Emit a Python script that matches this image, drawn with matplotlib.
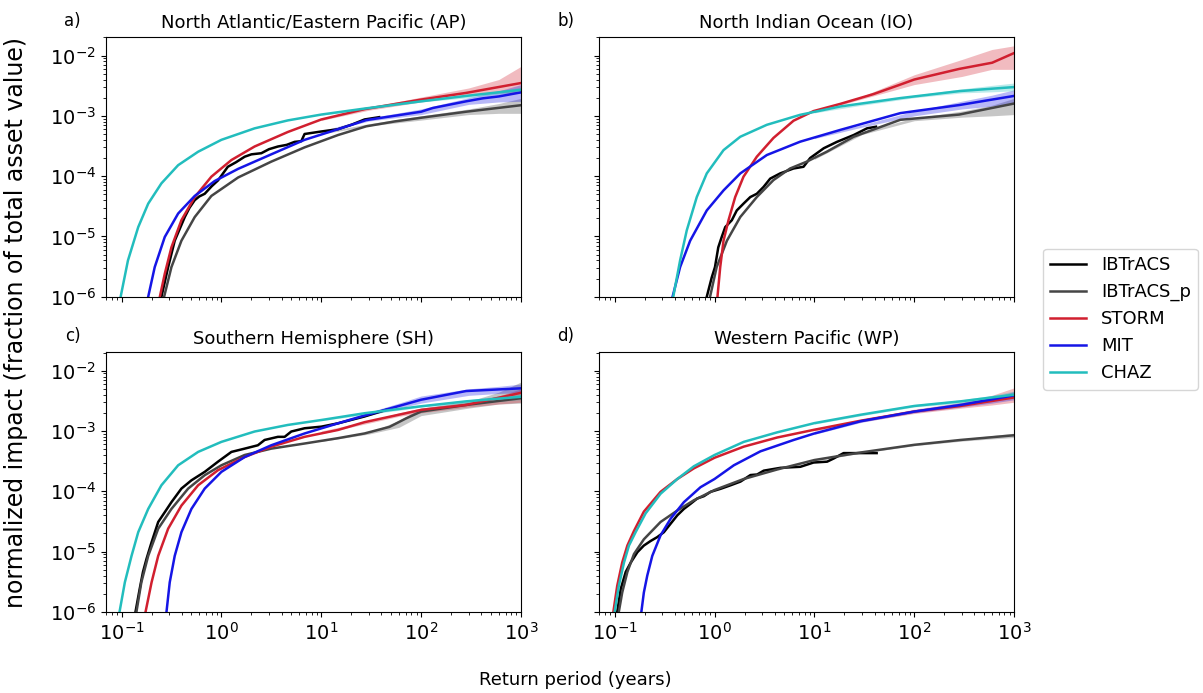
import matplotlib
matplotlib.use("Agg")
import matplotlib.pyplot as plt

# ---------------- data (return period in years, normalized impact) ----------------
LABELS = ["IBTrACS", "IBTrACS_p", "STORM", "MIT", "CHAZ"]
COLORS = ["black", "#454545", "#d11f2f", "#1515e6", "#22bdbd"]
TITLES = ["North Atlantic/Eastern Pacific (AP)", "North Indian Ocean (IO)",
          "Southern Hemisphere (SH)", "Western Pacific (WP)"]
PANEL_TAGS = ["a)", "b)", "c)", "d)"]

############# AP ##############################################################
AP_IBTRACS_X = [0.251, 0.293, 0.341, 0.43, 0.48, 0.541, 0.6, 0.681, 0.8, 0.925, 1.16, 1.4, 1.71, 2.0, 2.51,
                3.0, 3.68, 4.5, 5.41, 6.31, 6.81, 10.0, 14.7, 20.0, 27.1, 38.0]
AP_IBTRACS_Y = [1e-6, 3.1e-6, 8.5e-6, 2.1e-5, 3.0e-5, 4.0e-5, 4.6e-5, 5.1e-5, 6.8e-5, 8.5e-5, 1.43e-4, 1.7e-4, 2.1e-4, 2.3e-4, 2.4e-4,
                2.8e-4, 3.1e-4, 3.3e-4, 3.7e-4, 3.8e-4, 5.0e-4, 5.5e-4, 6.0e-4, 7.1e-4, 8.7e-4, 9.5e-4]
AP_IBTRACS_P_X = [0.267, 0.316, 0.398, 0.541, 0.794, 1.47, 3.16, 6.81, 14.7, 28.2, 55.0, 100.0, 282.0, 1000.0]
AP_IBTRACS_P_Y = [1e-6, 3.1e-6, 8.5e-6, 2.1e-5, 4.7e-5, 9.5e-5, 1.74e-4, 3.0e-4, 4.8e-4, 6.7e-4, 8.1e-4, 9.3e-4, 1.17e-3, 1.5e-3]
AP_STORM_X = [0.242, 0.271, 0.316, 0.398, 0.541, 0.794, 1.26, 2.15, 4.63, 10.0, 27.1, 100.0, 282.0, 1000.0]
AP_STORM_Y = [1e-6, 2.4e-6, 6.6e-6, 1.86e-5, 4.5e-5, 9.8e-5, 1.85e-4, 3.1e-4, 5.4e-4, 8.7e-4, 1.29e-3, 1.86e-3, 2.4e-3, 3.5e-3]
AP_MIT_X = [0.185, 0.215, 0.271, 0.369, 0.541, 0.857, 1.47, 3.16, 6.81, 14.7, 28.2, 100.0, 131.0, 282.0, 414.0, 603.0, 1000.0]
AP_MIT_Y = [1e-6, 3.1e-6, 9.8e-6, 2.4e-5, 4.7e-5, 8.3e-5, 1.32e-4, 2.3e-4, 4.0e-4, 6.0e-4, 8.5e-4, 1.17e-3, 1.35e-3, 1.74e-3, 1.95e-3, 2.1e-3, 2.45e-3]
AP_CHAZ_X = [0.098, 0.116, 0.147, 0.185, 0.251, 0.369, 0.585, 1.0, 2.15, 4.63, 10.0, 27.1, 100.0, 282.0, 1000.0]
AP_CHAZ_Y = [1e-6, 4.0e-6, 1.43e-5, 3.5e-5, 7.6e-5, 1.52e-4, 2.54e-4, 4.0e-4, 6.2e-4, 8.4e-4, 1.05e-3, 1.32e-3, 1.74e-3, 2.14e-3, 2.7e-3]
AP_BAND_X = [10.0, 30.0, 100.0, 300.0, 600.0, 1000.0]
AP_IBTRACS_P_LO = [5.0e-4, 6.8e-4, 8.5e-4, 1.05e-3, 1.1e-3, 1.1e-3]
AP_IBTRACS_P_HI = [5.3e-4, 7.4e-4, 1.0e-3, 1.3e-3, 1.6e-3, 1.95e-3]
AP_STORM_LO = [8.4e-4, 1.24e-3, 1.7e-3, 2.2e-3, 2.4e-3, 2.4e-3]
AP_STORM_HI = [9.0e-4, 1.38e-3, 2.05e-3, 2.9e-3, 4.0e-3, 6.6e-3]
AP_MIT_LO = [5.2e-4, 8.2e-4, 1.05e-3, 1.55e-3, 1.7e-3, 1.74e-3]
AP_MIT_HI = [5.6e-4, 9.2e-4, 1.3e-3, 2.0e-3, 2.6e-3, 3.3e-3]
AP_CHAZ_LO = [1.03e-3, 1.3e-3, 1.7e-3, 2.0e-3, 2.3e-3, 2.5e-3]
AP_CHAZ_HI = [1.07e-3, 1.38e-3, 1.8e-3, 2.25e-3, 2.6e-3, 3.0e-3]

############# IO ##############################################################
IO_IBTRACS_X = [0.836, 0.938, 1.01, 1.09, 1.18, 1.28, 1.49, 1.67, 1.95, 2.28, 2.65, 3.09, 3.61, 4.54, 6.18,
                7.78, 9.08, 12.4, 16.8, 24.7, 33.6, 41.4]
IO_IBTRACS_Y = [1e-6, 2.1e-6, 3.1e-6, 6.6e-6, 9.8e-6, 1.43e-5, 1.86e-5, 2.7e-5, 3.5e-5, 4.5e-5, 5.1e-5, 6.6e-5, 9.1e-5, 1.11e-4, 1.34e-4,
                1.43e-4, 2.0e-4, 2.9e-4, 3.7e-4, 4.8e-4, 6.2e-4, 6.6e-4]
IO_IBTRACS_P_X = [0.902, 1.05, 1.33, 1.81, 2.65, 3.89, 5.71, 8.39, 13.3, 24.7, 72.6, 282.0, 1000.0]
IO_IBTRACS_P_Y = [1e-6, 3.1e-6, 8.5e-6, 2.1e-5, 4.5e-5, 8.6e-5, 1.34e-4, 1.74e-4, 2.54e-4, 4.5e-4, 8.6e-4, 1.05e-3, 1.6e-3]
IO_STORM_X = [1.07, 1.14, 1.23, 1.38, 1.61, 1.95, 2.65, 3.89, 6.18, 9.82, 18.2, 39.2, 72.6, 100.0, 282.0, 603.0, 1000.0]
IO_STORM_Y = [1e-6, 3.1e-6, 8.5e-6, 1.86e-5, 4.5e-5, 9.8e-5, 2.1e-4, 4.3e-4, 8.3e-4, 1.2e-3, 1.58e-3, 2.3e-3, 3.3e-3, 4.0e-3, 6.0e-3, 7.6e-3, 1.1e-2]
IO_MIT_X = [0.38, 0.452, 0.57, 0.836, 1.23, 1.81, 3.34, 7.21, 18.2, 72.6, 282.0, 1000.0]
IO_MIT_Y = [1e-6, 3.1e-6, 8.5e-6, 2.7e-5, 5.8e-5, 1.11e-4, 2.24e-4, 3.73e-4, 5.85e-4, 1.11e-3, 1.51e-3, 2.14e-3]
IO_CHAZ_X = [0.386, 0.452, 0.527, 0.664, 0.836, 1.23, 1.81, 3.34, 7.21, 18.2, 72.6, 282.0, 1000.0]
IO_CHAZ_Y = [1e-6, 4.0e-6, 1.26e-5, 4.5e-5, 1.11e-4, 2.7e-4, 4.5e-4, 7.1e-4, 1.04e-3, 1.43e-3, 1.97e-3, 2.57e-3, 3.0e-3]
IO_BAND_X = [10.0, 30.0, 100.0, 300.0, 600.0, 1000.0]
IO_IBTRACS_P_LO = [1.9e-4, 4.9e-4, 8.3e-4, 9.5e-4, 1.0e-3, 1.05e-3]
IO_IBTRACS_P_HI = [2.1e-4, 5.5e-4, 9.2e-4, 1.2e-3, 1.5e-3, 1.95e-3]
IO_STORM_LO = [1.15e-3, 1.9e-3, 3.3e-3, 4.5e-3, 5.9e-3, 5.9e-3]
IO_STORM_HI = [1.25e-3, 2.1e-3, 4.8e-3, 8.6e-3, 1.26e-2, 1.45e-2]
IO_MIT_LO = [4.2e-4, 6.5e-4, 1.0e-3, 1.3e-3, 1.45e-3, 1.6e-3]
IO_MIT_HI = [4.6e-4, 7.1e-4, 1.2e-3, 1.75e-3, 2.2e-3, 2.7e-3]
IO_CHAZ_LO = [1.12e-3, 1.5e-3, 2.0e-3, 2.4e-3, 2.5e-3, 2.6e-3]
IO_CHAZ_HI = [1.18e-3, 1.6e-3, 2.2e-3, 2.8e-3, 3.2e-3, 3.5e-3]

############# SH ##############################################################
SH_IBTRACS_X = [0.138, 0.152, 0.164, 0.178, 0.2, 0.233, 0.271, 0.316, 0.398, 0.501, 0.681, 0.925, 1.26, 1.71,
                2.32, 2.71, 3.68, 4.3, 5.01, 6.81, 10.0, 14.7, 27.1, 44.7]
SH_IBTRACS_Y = [1e-6, 2.4e-6, 4.6e-6, 7.6e-6, 1.43e-5, 3.1e-5, 4.5e-5, 6.6e-5, 1.11e-4, 1.52e-4, 2.1e-4, 3.1e-4, 4.5e-4, 5.1e-4,
                5.8e-4, 7.1e-4, 8.0e-4, 8.0e-4, 9.8e-4, 1.11e-3, 1.18e-3, 1.34e-3, 1.74e-3, 2.24e-3]
SH_IBTRACS_P_X = [0.141, 0.158, 0.185, 0.233, 0.316, 0.465, 0.681, 1.0, 1.71, 3.16, 6.81, 14.7, 27.1, 48.2, 70.8, 100.0, 282.0, 1000.0]
SH_IBTRACS_P_Y = [1e-6, 3.1e-6, 8.5e-6, 2.4e-5, 5.1e-5, 1.11e-4, 1.85e-4, 2.7e-4, 4.0e-4, 5.1e-4, 6.2e-4, 7.6e-4, 9.1e-4, 1.17e-3, 1.62e-3, 2.1e-3, 2.7e-3, 3.5e-3]
SH_STORM_X = [0.174, 0.2, 0.233, 0.293, 0.398, 0.585, 0.925, 1.71, 3.16, 6.81, 14.7, 27.1, 100.0, 282.0, 1000.0]
SH_STORM_Y = [1e-6, 3.1e-6, 8.5e-6, 2.4e-5, 5.8e-5, 1.26e-4, 2.24e-4, 3.7e-4, 5.5e-4, 8.0e-4, 1.04e-3, 1.4e-3, 2.24e-3, 2.7e-3, 4.3e-3]
SH_MIT_X = [0.282, 0.304, 0.341, 0.398, 0.501, 0.681, 1.0, 1.71, 3.16, 6.81, 14.7, 27.1, 100.0, 282.0, 1000.0]
SH_MIT_Y = [1e-6, 3.1e-6, 8.5e-6, 2.1e-5, 5.1e-5, 1.11e-4, 2.1e-4, 3.7e-4, 5.8e-4, 9.1e-4, 1.34e-3, 1.8e-3, 3.3e-3, 4.6e-3, 5.1e-3]
SH_CHAZ_X = [0.0955, 0.108, 0.126, 0.147, 0.185, 0.251, 0.369, 0.585, 1.0, 2.15, 4.63, 10.0, 27.1, 100.0, 282.0, 1000.0]
SH_CHAZ_Y = [1e-6, 3.1e-6, 8.5e-6, 2.1e-5, 5.1e-5, 1.26e-4, 2.7e-4, 4.5e-4, 6.6e-4, 9.8e-4, 1.26e-3, 1.52e-3, 1.97e-3, 2.57e-3, 3.1e-3, 3.7e-3]
SH_BAND_X = [10.0, 30.0, 60.0, 100.0, 300.0, 600.0, 1000.0]
SH_IBTRACS_P_LO = [6.7e-4, 8.9e-4, 1.15e-3, 1.8e-3, 2.4e-3, 2.8e-3, 2.9e-3]
SH_IBTRACS_P_HI = [7.1e-4, 9.4e-4, 1.5e-3, 2.4e-3, 3.1e-3, 4.4e-3, 6.5e-3]
SH_STORM_LO = [9.0e-4, 1.35e-3, 1.75e-3, 2.0e-3, 2.5e-3, 2.8e-3, 3.0e-3]
SH_STORM_HI = [1.0e-3, 1.48e-3, 2.0e-3, 2.4e-3, 3.0e-3, 3.8e-3, 5.0e-3]
SH_MIT_LO = [1.1e-3, 1.8e-3, 2.4e-3, 2.9e-3, 3.9e-3, 4.2e-3, 4.3e-3]
SH_MIT_HI = [1.2e-3, 2.05e-3, 2.9e-3, 3.8e-3, 5.0e-3, 5.5e-3, 6.0e-3]
SH_CHAZ_LO = [1.48e-3, 1.9e-3, 2.2e-3, 2.5e-3, 2.9e-3, 3.1e-3, 3.3e-3]
SH_CHAZ_HI = [1.56e-3, 2.0e-3, 2.4e-3, 2.7e-3, 3.3e-3, 3.8e-3, 4.2e-3]

############# WP ##############################################################
WP_IBTRACS_X = [0.106, 0.115, 0.129, 0.145, 0.169, 0.196, 0.229, 0.267, 0.311, 0.363, 0.424, 0.493, 0.575, 0.671,
                0.782, 0.912, 1.15, 1.45, 1.82, 2.29, 2.67, 3.11, 4.57, 7.24, 9.8, 13.4, 15.6, 19.6, 42.0]
WP_IBTRACS_Y = [1e-6, 2.4e-6, 4.6e-6, 6.6e-6, 9.8e-6, 1.26e-5, 1.5e-5, 1.74e-5, 2.1e-5, 2.9e-5, 4.0e-5, 5.1e-5, 6.2e-5, 7.6e-5,
                8.3e-5, 9.8e-5, 1.1e-4, 1.26e-4, 1.45e-4, 1.86e-4, 1.9e-4, 2.2e-4, 2.45e-4, 2.55e-4, 3.0e-4, 3.1e-4, 3.5e-4, 4.3e-4, 4.3e-4]
WP_IBTRACS_P_X = [0.11, 0.119, 0.134, 0.156, 0.196, 0.288, 0.424, 0.621, 1.0, 1.96, 4.24, 10.0, 29.0, 100.0, 290.0, 1000.0]
WP_IBTRACS_P_Y = [1e-6, 2.1e-6, 4.6e-6, 9.1e-6, 1.6e-5, 3.1e-5, 4.8e-5, 7.1e-5, 1.05e-4, 1.6e-4, 2.3e-4, 3.3e-4, 4.4e-4, 5.9e-4, 7.1e-4, 8.5e-4]
WP_STORM_X = [0.097, 0.106, 0.119, 0.134, 0.156, 0.196, 0.288, 0.424, 0.621, 1.0, 1.96, 4.24, 10.0, 29.0, 100.0, 290.0, 1000.0]
WP_STORM_Y = [1e-6, 2.7e-6, 6.6e-6, 1.26e-5, 2.2e-5, 4.6e-5, 9.8e-5, 1.6e-4, 2.4e-4, 3.6e-4, 5.5e-4, 7.8e-4, 1.05e-3, 1.48e-3, 2.1e-3, 2.6e-3, 3.6e-3]
WP_MIT_X = [0.185, 0.196, 0.212, 0.238, 0.288, 0.363, 0.493, 0.724, 1.0, 1.56, 2.88, 6.2, 10.0, 29.0, 100.0, 290.0, 1000.0]
WP_MIT_Y = [1e-6, 2.1e-6, 4.0e-6, 8.5e-6, 1.86e-5, 3.5e-5, 6.6e-5, 1.17e-4, 1.6e-4, 2.7e-4, 4.6e-4, 7.1e-4, 9.1e-4, 1.45e-3, 2.1e-3, 2.7e-3, 3.9e-3]
WP_CHAZ_X = [0.1, 0.11, 0.124, 0.139, 0.162, 0.204, 0.288, 0.424, 0.621, 1.0, 1.96, 4.24, 10.0, 29.0, 100.0, 290.0, 1000.0]
WP_CHAZ_Y = [1e-6, 2.7e-6, 6.6e-6, 1.26e-5, 2.1e-5, 4.3e-5, 9.1e-5, 1.6e-4, 2.6e-4, 4.0e-4, 6.6e-4, 9.5e-4, 1.35e-3, 1.86e-3, 2.6e-3, 3.1e-3, 4.0e-3]
WP_BAND_X = [10.0, 30.0, 100.0, 300.0, 600.0, 1000.0]
WP_IBTRACS_P_LO = [3.2e-4, 4.3e-4, 5.7e-4, 6.8e-4, 7.4e-4, 7.8e-4]
WP_IBTRACS_P_HI = [3.4e-4, 4.5e-4, 6.1e-4, 7.4e-4, 8.4e-4, 9.2e-4]
WP_STORM_LO = [1.0e-3, 1.42e-3, 1.95e-3, 2.4e-3, 2.7e-3, 3.0e-3]
WP_STORM_HI = [1.1e-3, 1.56e-3, 2.3e-3, 3.0e-3, 3.9e-3, 5.2e-3]
WP_MIT_LO = [8.8e-4, 1.4e-3, 2.0e-3, 2.5e-3, 2.9e-3, 3.3e-3]
WP_MIT_HI = [9.4e-4, 1.52e-3, 2.25e-3, 2.95e-3, 3.6e-3, 4.5e-3]
WP_CHAZ_LO = [1.3e-3, 1.8e-3, 2.5e-3, 2.9e-3, 3.3e-3, 3.5e-3]
WP_CHAZ_HI = [1.4e-3, 1.95e-3, 2.75e-3, 3.3e-3, 3.9e-3, 4.6e-3]

# tables built from the lists above
panels = [
    {"lines": [(AP_IBTRACS_X, AP_IBTRACS_Y), (AP_IBTRACS_P_X, AP_IBTRACS_P_Y), (AP_STORM_X, AP_STORM_Y),
               (AP_MIT_X, AP_MIT_Y), (AP_CHAZ_X, AP_CHAZ_Y)],
     "band_x": AP_BAND_X,
     "bands": [None, (AP_IBTRACS_P_LO, AP_IBTRACS_P_HI), (AP_STORM_LO, AP_STORM_HI),
               (AP_MIT_LO, AP_MIT_HI), (AP_CHAZ_LO, AP_CHAZ_HI)]},
    {"lines": [(IO_IBTRACS_X, IO_IBTRACS_Y), (IO_IBTRACS_P_X, IO_IBTRACS_P_Y), (IO_STORM_X, IO_STORM_Y),
               (IO_MIT_X, IO_MIT_Y), (IO_CHAZ_X, IO_CHAZ_Y)],
     "band_x": IO_BAND_X,
     "bands": [None, (IO_IBTRACS_P_LO, IO_IBTRACS_P_HI), (IO_STORM_LO, IO_STORM_HI),
               (IO_MIT_LO, IO_MIT_HI), (IO_CHAZ_LO, IO_CHAZ_HI)]},
    {"lines": [(SH_IBTRACS_X, SH_IBTRACS_Y), (SH_IBTRACS_P_X, SH_IBTRACS_P_Y), (SH_STORM_X, SH_STORM_Y),
               (SH_MIT_X, SH_MIT_Y), (SH_CHAZ_X, SH_CHAZ_Y)],
     "band_x": SH_BAND_X,
     "bands": [None, (SH_IBTRACS_P_LO, SH_IBTRACS_P_HI), (SH_STORM_LO, SH_STORM_HI),
               (SH_MIT_LO, SH_MIT_HI), (SH_CHAZ_LO, SH_CHAZ_HI)]},
    {"lines": [(WP_IBTRACS_X, WP_IBTRACS_Y), (WP_IBTRACS_P_X, WP_IBTRACS_P_Y), (WP_STORM_X, WP_STORM_Y),
               (WP_MIT_X, WP_MIT_Y), (WP_CHAZ_X, WP_CHAZ_Y)],
     "band_x": WP_BAND_X,
     "bands": [None, (WP_IBTRACS_P_LO, WP_IBTRACS_P_HI), (WP_STORM_LO, WP_STORM_HI),
               (WP_MIT_LO, WP_MIT_HI), (WP_CHAZ_LO, WP_CHAZ_HI)]},
]

fig, axes = plt.subplots(2, 2, figsize=(12.03, 6.93), dpi=100, sharex=True, sharey=True)
fig.subplots_adjust(left=0.088, right=0.843, bottom=0.117, top=0.947, wspace=0.188, hspace=0.212)

for i, ax in enumerate(axes.flat):
    p = panels[i]
    for k in range(5):
        if p["bands"][k] is not None:
            lo, hi = p["bands"][k]
            ax.fill_between(p["band_x"], lo, hi, color=COLORS[k], alpha=0.3, lw=0)
    for k in range(5):
        x, y = p["lines"][k]
        ax.plot(x, y, color=COLORS[k], lw=1.8, label=LABELS[k])
    ax.set_xscale("log")
    ax.set_yscale("log")
    ax.set_title(TITLES[i], fontsize=13)
    ax.text(-0.08, 1.062, PANEL_TAGS[i], transform=ax.transAxes, ha="center", va="center", fontsize=12)
    ax.tick_params(axis="both", which="major", labelsize=14)

axes[0, 0].set_xlim(0.0697, 1000)
axes[0, 0].set_ylim(1e-6, 0.0205)

fig.text(0.013, 0.535, "normalized impact (fraction of total asset value)", rotation=90,
         ha="center", va="center", fontsize=17)
fig.text(0.478, 0.019, "Return period (years)", ha="center", va="center", fontsize=13)

handles, labels = axes[0, 0].get_legend_handles_labels()
fig.legend(handles, labels, loc="upper left", bbox_to_anchor=(0.8595, 0.654), fontsize=13)

plt.savefig("out.png", dpi=100)
